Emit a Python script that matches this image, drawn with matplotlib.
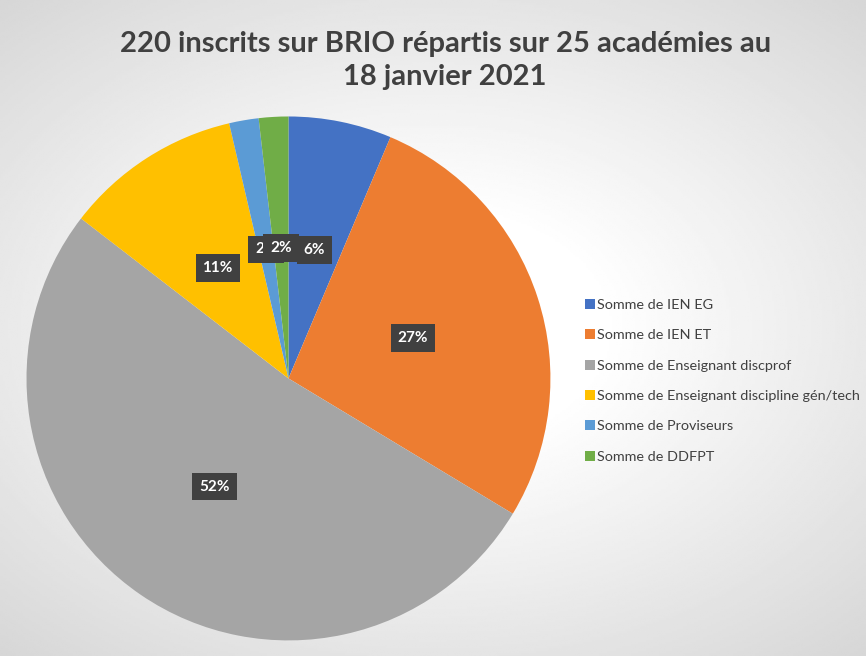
# Pie chart: BRIO registrations by category
import numpy as np
import matplotlib.pyplot as plt

title = "220 inscrits sur BRIO répartis sur 25 académies au\n18 janvier 2021"
categories = ["Somme de IEN EG", "Somme de IEN ET", "Somme de Enseignant discprof",
              "Somme de Enseignant discipline gén/tech", "Somme de Proviseurs",
              "Somme de DDFPT"]
counts = [14, 60, 114, 24, 4, 4]
colors = ['#4472C4', '#ED7D31', '#A5A5A5', '#FFC000', '#5B9BD5', '#70AD47']

plt.rcParams['font.family'] = ['Lato', 'DejaVu Sans']

fig = plt.figure(figsize=(8.66, 6.56), dpi=100)

# soft grey-white background like the original
bg = fig.add_axes([0, 0, 1, 1], zorder=-5)
yy, xx = np.mgrid[-1:1:300j, -1:1:400j]
rr = np.sqrt((xx * 0.9) ** 2 + (yy * 1.0) ** 2)
bg.imshow(1 - 0.16 * np.clip(rr - 0.35, 0, 1), cmap='gray', vmin=0, vmax=1,
          aspect='auto', extent=[0, 1, 0, 1])
bg.axis('off')

ax = fig.add_axes([0.0306, 0.0236, 0.605, 0.799])
wedges, texts, autotexts = ax.pie(
    counts, colors=colors, startangle=90, counterclock=False,
    autopct='%.0f%%', pctdistance=0.5, radius=1,
    textprops=dict(color='white', fontweight='bold', fontsize=11,
                   bbox=dict(boxstyle='square,pad=0.45', fc='#404040', ec='none')))
ax.set_xlim(-1, 1)
ax.set_ylim(-1, 1)
ax.set_aspect('equal')

fig.text(0.514, 0.952, title, ha='center', va='top', fontsize=21,
         fontweight='bold', color='#404040', linespacing=1.3)

fig.legend(wedges, categories, loc='upper left', bbox_to_anchor=(0.66, 0.564),
           frameon=False, fontsize=10.4, labelcolor='#404040', handlelength=0.7,
           handleheight=0.7, handletextpad=0.15, labelspacing=1.26)

plt.savefig('out.png', dpi=100)
